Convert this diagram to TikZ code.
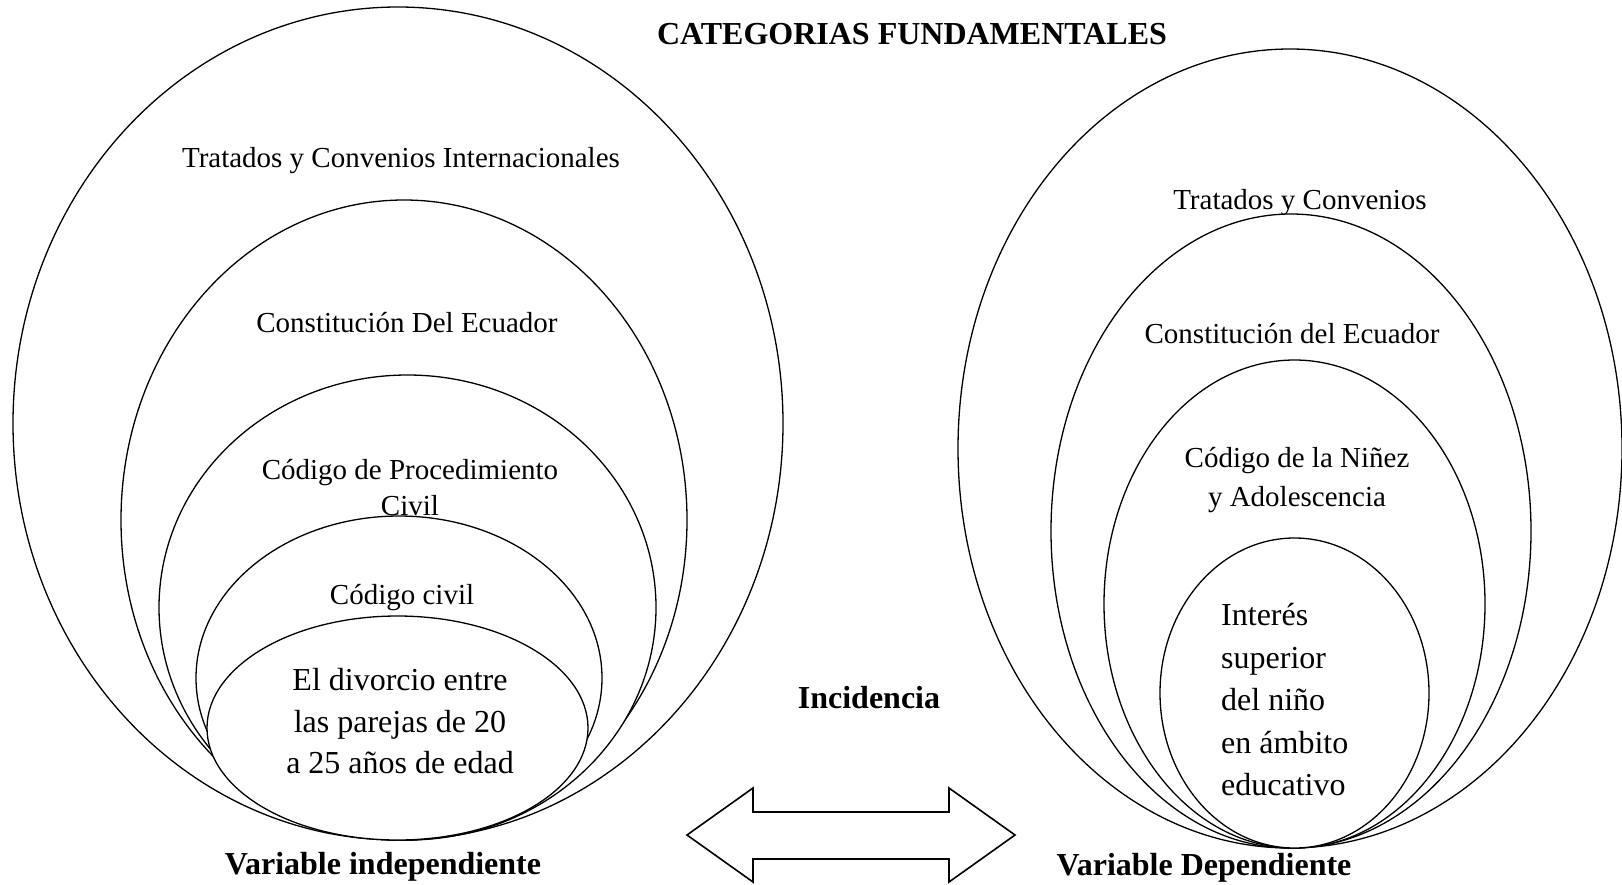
\documentclass[tikz,border=0pt]{standalone}
\usepackage{fontspec}
\setmainfont{Liberation Serif}
\usetikzlibrary{shapes.geometric}
\tikzstyle{capa}=[
ellipse,
draw,
line width=1.3pt,
fill=white,
inner sep=0pt,
]
\tikzstyle{capa-texto}=[
font=\fontsize{29}{35}\selectfont,
anchor=base,
inner sep=0pt,
]
\tikzstyle{nucleo-texto}=[
font=\fontsize{32}{38}\selectfont,
inner sep=0pt,
]
\tikzstyle{negrita}=[
font=\fontsize{32}{38}\selectfont\bfseries,
anchor=base,
inner sep=0pt,
]

\begin{document}
\begin{tikzpicture}[x=1pt,y=-1pt]
        \newcommand{\capa}[5]
        {
          \node[capa, minimum width=#4pt, minimum height=#5pt] (#1) at (#2,#3) {};
        }
        \useasboundingbox (0,0) rectangle (1622,884);

        \node[negrita] (titulo) at (912,44) {CATEGORIAS FUNDAMENTALES};

        % variable independiente
        \capa{vi1}{398}{423.5}{770}{833}
        \node[capa-texto] (tratados-vi) at (401,167) {Tratados y Convenios Internacionales};
        \capa{vi2}{404}{520}{566}{640}
        \node[capa-texto] (constitucion-vi) at (407,332) {Constitución Del Ecuador};
        \capa{vi3}{407.5}{607.5}{497}{465}
        \node[capa-texto] (procedimiento) at (410,479) {Código de Procedimiento};
        \node[capa-texto] (civil) at (410,515) {Civil};
        \capa{vi4}{399}{678}{406}{324}
        \node[capa-texto] (codigo-civil) at (402,604) {Código civil};
        \capa{vi5}{397.5}{728}{381}{224}
        \foreach \t [count=\i] in {El divorcio entre, las parejas de 20, a 25 años de edad}
          \node[nucleo-texto, anchor=base] (divorcio\i) at (400,649+41.5*\i) {\t};
        \node[negrita] (independiente) at (383,874) {Variable independiente};

        % variable dependiente
        \capa{vd1}{1290}{448.5}{664}{799}
        \node[capa-texto] (tratados-vd) at (1300,209) {Tratados y Convenios};
        \capa{vd2}{1291}{531}{480}{634}
        \node[capa-texto] (constitucion-vd) at (1292,343) {Constitución del Ecuador};
        \capa{vd3}{1294.5}{604}{381}{488}
        \node[capa-texto] (ninez) at (1297,467) {Código de la Niñez};
        \node[capa-texto] (adolescencia) at (1297,506) {y Adolescencia};
        \capa{vd4}{1294.5}{693}{269}{310}
        \foreach \t [count=\i] in {Interés, superior, del niño, en ámbito, educativo}
          \node[nucleo-texto, anchor=base west] (interes\i) at (1221,583+42.5*\i) {\t};
        \node[negrita] (dependiente) at (1204,875) {Variable Dependiente};

        % incidencia
        \node[negrita] (incidencia) at (869,708) {Incidencia};
        \draw[line width=1.6pt, fill=white] (687,835) -- (753,788) -- (753,812) -- (949,812)
          -- (949,788) -- (1015,835) -- (949,882) -- (949,859) -- (753,859) -- (753,882) -- cycle;
\end{tikzpicture}
\end{document}
